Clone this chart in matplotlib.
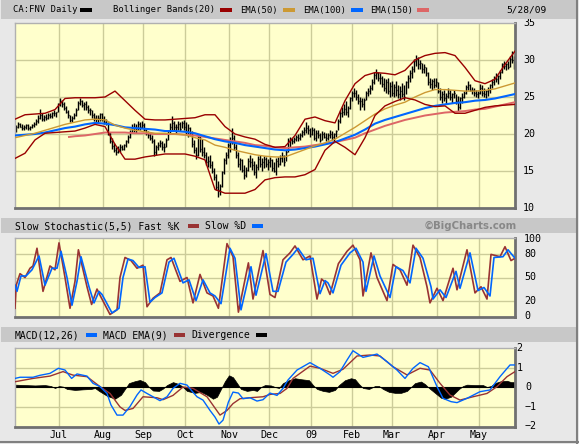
import numpy as np
import matplotlib
matplotlib.use('Agg')
import matplotlib.pyplot as plt
from matplotlib.patches import Rectangle
import matplotlib.transforms as mtransforms

# ---------------- DATA ----------------
high = [21.2,21.6,21.5,21.3,21.2,21.4,21.3,21.1,21.4,21.6,
        22.0,22.6,23.4,22.8,22.5,22.7,22.9,22.8,23.0,23.2,
        23.0,24.2,24.9,24.6,24.3,23.8,23.2,22.6,22.4,22.8,
        23.5,24.4,24.9,24.6,24.3,24.4,23.9,23.5,23.2,22.8,
        22.6,22.5,22.9,22.8,22.4,22.0,21.6,20.3,19.5,18.8,
        18.2,18.4,18.6,18.5,18.7,19.2,19.9,20.6,21.3,21.5,
        21.4,21.7,21.6,21.8,21.5,20.8,20.4,20.2,19.8,19.3,
        18.5,18.9,19.2,19.0,18.8,19.5,20.6,21.5,22.4,21.8,
        21.4,21.7,21.6,21.8,21.9,21.6,21.3,21.0,20.4,19.2,
        18.2,20.0,19.8,19.3,18.2,17.6,17.0,17.2,16.4,15.4,
        14.6,13.6,13.3,15.0,16.8,17.6,18.8,19.6,20.8,19.8,
        18.6,17.6,16.8,16.6,15.8,15.6,16.8,17.2,16.8,16.4,
        16.0,17.0,17.2,16.8,17.0,16.9,16.6,16.9,16.6,16.2,
        16.8,16.9,17.2,17.5,17.2,17.9,19.4,19.6,19.4,19.6,
        19.9,20.0,20.1,20.6,21.0,21.6,21.2,20.8,21.0,20.8,
        20.5,20.6,20.2,20.4,20.3,20.1,20.2,20.5,20.4,20.2,
        20.6,22.0,23.2,23.6,24.0,24.4,23.8,25.0,25.8,26.2,
        26.0,25.4,25.0,24.8,24.9,25.8,26.2,26.6,27.4,28.4,
        28.8,28.4,28.2,27.8,27.6,27.4,27.5,27.0,27.2,26.8,
        27.1,26.6,26.5,26.9,26.6,27.2,28.0,28.6,29.2,30.2,
        30.7,30.4,30.0,29.6,29.4,29.0,28.4,27.6,27.4,27.6,
        27.5,27.0,26.2,25.8,26.0,25.6,26.2,26.0,25.6,26.0,
        25.4,25.2,25.0,25.5,25.8,26.6,27.1,26.8,26.4,26.2,
        26.0,25.8,26.7,26.6,26.2,26.0,26.4,26.8,27.4,27.8,
        28.2,28.0,28.6,29.6,29.8,29.6,29.8,30.6,31.2,30.6]
low = [20.3,20.8,20.9,20.6,20.5,20.7,20.6,20.5,20.8,20.9,
       21.2,21.5,22.0,21.8,21.7,21.9,22.0,22.1,22.2,22.4,
       22.3,23.0,23.8,23.7,23.3,22.8,22.2,21.6,21.6,22.0,
       22.4,23.2,23.9,23.6,23.2,23.3,22.8,22.6,22.2,21.8,
       21.6,21.5,21.8,21.8,21.4,21.2,19.8,18.8,18.0,17.6,
       17.2,17.4,17.6,17.8,17.8,18.3,18.8,19.4,20.1,20.3,
       20.2,20.5,20.6,20.8,20.4,19.9,19.4,19.2,18.8,17.0,
       17.2,17.8,18.2,17.8,17.5,18.2,19.2,20.2,20.6,20.5,
       20.2,20.6,20.4,20.8,20.6,20.0,19.6,19.8,18.2,17.4,
       16.6,17.0,17.6,17.0,16.8,15.8,15.6,15.4,14.7,13.8,
       12.4,11.5,11.8,12.8,14.6,16.0,16.8,17.6,18.6,17.8,
       16.8,15.6,15.2,14.8,13.9,14.2,15.0,15.6,15.2,14.4,
       14.0,15.2,15.6,15.0,15.4,15.5,15.2,15.6,15.0,14.8,
       14.5,15.6,15.8,16.2,15.7,16.4,17.6,18.2,18.6,18.8,
       19.0,19.0,19.2,19.6,19.9,20.2,20.0,19.6,19.9,19.2,
       19.0,19.4,18.9,19.2,19.4,19.0,19.2,19.4,19.2,19.1,
       19.6,20.5,21.5,22.3,22.6,22.5,22.3,23.4,24.4,25.0,
       24.6,24.0,23.2,23.6,23.2,24.6,25.2,25.4,26.0,26.8,
       27.4,27.2,26.8,26.4,25.8,25.6,25.4,25.0,25.2,25.0,
       25.2,24.8,24.6,25.0,24.6,25.4,26.2,27.0,27.6,28.4,
       29.2,28.8,28.8,28.2,28.2,27.8,26.6,26.2,26.0,26.2,
       26.3,25.6,24.6,24.2,24.4,24.0,24.8,24.6,24.2,24.8,
       24.0,23.1,23.4,24.2,24.8,25.4,26.0,25.8,25.4,25.2,
       25.0,24.9,25.4,25.2,25.0,24.9,25.2,25.6,26.2,26.6,
       27.0,26.7,27.4,28.2,28.8,28.7,28.8,29.0,29.6,28.8]
close = [21.0,21.3,21.0,20.8,21.0,21.2,20.8,21.0,21.2,21.4,
         21.8,22.2,22.5,22.0,22.3,22.2,22.6,22.4,22.8,22.9,
         23.0,24.0,24.5,24.0,23.5,23.0,22.5,21.9,22.2,22.5,
         23.2,24.2,24.5,23.9,24.0,23.6,23.2,23.3,22.5,22.2,
         22.0,22.2,22.7,22.0,21.6,21.5,20.0,19.0,18.4,17.9,
         17.5,18.0,18.2,18.0,18.5,19.0,19.6,20.3,20.8,21.0,
         20.6,21.3,21.0,21.2,20.6,20.1,19.8,19.5,19.0,17.5,
         18.2,18.5,18.8,18.2,18.3,19.2,20.4,21.0,21.5,20.9,
         21.0,21.4,20.7,21.5,21.0,20.4,20.8,20.2,18.6,17.8,
         17.2,19.6,18.0,17.5,17.2,16.2,16.4,15.8,15.0,14.2,
         12.8,12.5,13.0,14.8,16.5,17.2,18.5,19.0,19.5,18.2,
         17.2,16.0,16.5,15.2,14.5,15.2,16.4,16.2,15.8,14.8,
         15.6,16.6,16.0,16.2,16.6,15.9,16.2,16.5,15.4,15.0,
         16.4,16.0,16.8,17.0,16.2,17.6,19.0,19.2,19.0,19.3,
         19.6,19.4,19.8,20.3,20.6,20.8,20.5,20.0,20.6,19.5,
         20.2,19.8,19.2,20.0,19.6,19.5,19.9,20.0,19.6,20.0,
         20.4,21.8,22.9,23.0,23.4,23.0,23.5,24.8,25.5,25.6,
         25.0,24.5,24.4,24.0,24.6,25.5,25.8,26.2,27.0,28.0,
         28.2,27.5,27.6,26.8,26.2,27.0,25.8,26.5,25.6,26.4,
         26.0,25.4,25.8,25.4,25.0,27.0,27.6,28.2,28.8,29.8,
         30.2,29.4,29.6,28.8,29.0,28.2,27.0,26.8,27.2,26.6,
         27.0,25.8,25.0,25.4,24.8,25.2,25.6,25.0,25.4,25.6,
         24.4,23.6,24.8,25.0,25.6,26.4,26.6,26.0,26.0,25.6,
         25.4,25.6,26.2,25.6,25.4,25.8,26.0,26.6,27.0,27.6,
         27.4,27.8,28.4,29.4,29.2,29.5,29.0,30.2,30.0,29.8]

line_days = list(range(0, 251, 5))
bb_upper = [22.0,22.6,22.7,22.8,23.3,24.8,24.9,24.9,24.9,25.0,25.8,24.5,23.2,22.0,21.9,21.9,22.0,
            22.1,22.2,22.6,22.6,21.0,20.0,19.6,19.3,18.6,18.2,18.3,19.8,22.0,22.3,21.8,21.5,24.5,
            26.8,27.9,28.3,28.2,28.0,28.6,30.0,30.6,30.9,31.0,30.6,29.0,27.2,26.8,27.4,29.4,31.2]
bb_lower = [16.7,17.4,19.2,20.1,20.2,20.3,20.4,20.8,21.3,21.0,18.6,16.6,16.6,16.9,17.1,17.3,17.3,
            17.3,17.0,16.5,12.5,12.0,12.0,12.0,12.5,13.8,14.1,14.2,14.2,14.5,15.2,17.8,19.0,18.2,
            17.2,19.5,22.5,23.8,24.4,24.9,24.6,24.0,23.7,23.8,22.8,22.8,23.2,23.6,23.8,23.9,24.0]
ema50 = [19.5,19.8,20.1,20.5,20.9,21.3,21.6,21.9,22.0,21.9,21.2,20.8,20.5,20.3,20.1,20.1,20.0,
         19.9,19.5,19.2,18.5,18.2,17.8,17.5,17.2,17.0,16.9,16.9,17.4,17.9,18.4,18.8,19.3,20.1,
         20.9,21.8,22.7,23.4,23.9,24.3,25.0,25.6,26.0,26.0,25.9,25.8,25.8,25.9,26.1,26.5,26.9]
ema100 = [19.8,19.9,20.0,20.2,20.5,20.8,21.0,21.3,21.5,21.4,21.2,20.9,20.8,20.7,20.6,20.4,20.4,
          20.3,20.1,19.7,19.3,19.0,18.8,18.5,18.3,18.1,17.9,17.8,17.9,18.1,18.3,18.6,18.9,19.4,
          19.9,20.6,21.4,21.9,22.3,22.7,23.1,23.5,23.8,24.0,24.2,24.3,24.5,24.6,24.8,25.1,25.4]
ema150_days = [27] + list(range(30, 251, 5))
ema150 = [19.6,19.7,19.8,20.0,20.2,20.2,20.2,20.1,20.1,20.0,20.0,20.0,19.9,19.8,19.6,19.4,19.2,
          19.0,18.8,18.5,18.4,18.2,18.1,18.2,18.3,18.5,18.7,18.9,19.2,19.5,20.1,20.6,21.1,21.5,
          21.9,22.2,22.5,22.7,22.9,23.0,23.1,23.3,23.4,23.7,24.0,24.3]

stoch_k_days = [0,0.6,2.5,5,7.5,9,11,14,17.5,20,22,25,27.5,30,31.7,36,38.3,41,42.5,47.5,51,52.5,55,58,
                61,64,66,69,72.5,76,78,82.5,86,89,92.5,96,99,101.7,106,109,111.7,116.7,119,124,127.5,
                130,134,137.5,140,144,147.5,151,153.3,155,157.5,161.7,166,169,172.5,174,178,181,186,
                189,192.5,196,199,202.5,206,207.5,211,214,219,221,226,230,233,236,238,242.5,245,248,250]
stoch_k = [10,40,55,50,62,65,88,32,65,60,95,50,10,45,86,38,15,35,27,2,8,50,76,72,
           62,66,12,23,30,73,76,45,50,17,54,30,26,10,94,77,5,69,22,85,28,
           24,73,82,91,73,78,22,48,44,28,68,84,92,73,26,82,50,20,
           67,60,40,92,76,38,17,36,20,62,34,86,30,38,22,80,77,90,72,75]
stoch_d_days = [0,1,3,5.5,8.5,12,15,18.5,21,23,26,28.5,31,33,37,39.5,42,43.5,48.5,52,54,56.5,59,
                62,65,67.5,70,73.5,77,79.5,84,87,90.5,94,97.5,100,103,107.5,110,113,118,120.5,125.5,
                129,131.5,135.5,139,141.5,145.5,149,152.5,155,156.5,159,163,167.5,170.5,174,175.5,
                179.5,182.5,187.5,190.5,194,197.5,200.5,204,208,209,212.5,215.5,220.5,222.5,227.5,
                231.5,234.5,237.5,239.5,244,246.5,250]
stoch_d = [40,32,52,52,60,78,40,62,62,84,50,14,45,77,38,17,32,28,4,10,50,74,72,
           63,64,18,24,30,70,75,43,47,20,47,30,26,16,88,75,8,64,27,81,
           32,32,70,80,88,73,75,29,46,43,30,66,82,88,70,32,
           78,52,24,64,59,43,88,75,38,22,34,24,58,36,82,
           33,37,26,76,77,86,75]

macd_days = [0,2.5,9,12.5,17.5,21.7,25,28.3,31,36,39,42.5,46,48,51,54,57.5,61,63,66,69,72.5,76,79,
             82.5,86,88,91,94,97.5,100,102,104,106.7,109,111.7,114,117.5,121,124,127.5,131,134,136.5,
             141,147.5,152.5,157.5,159,162.5,166,169,174,177.5,181,186,191,195,199,202.5,206.7,211,
             214,218,221,226,232.5,237.5,242.5,247.5,250]
macd = [0.44,0.5,0.5,0.6,0.7,0.96,0.87,0.44,0.67,0.56,0.19,0.02,-0.33,-0.92,-1.44,-1.44,-1.0,-0.41,
        -0.15,-0.33,-0.5,-0.7,-0.5,-0.07,0.19,0.1,-0.15,-0.5,-0.67,-1.2,-1.54,-1.9,-1.7,-0.77,-0.26,
        -0.31,-0.6,-0.55,-0.72,-0.65,-0.31,-0.43,-0.07,0.36,0.87,1.25,0.96,0.62,0.5,0.79,1.38,1.86,
        1.52,1.6,1.69,1.3,0.87,0.44,0.96,1.25,1.04,0.02,-0.58,-0.75,-0.8,-0.58,-0.24,-0.15,0.53,1.13,1.13]
signal_days = [0,9,17.5,24,29,36,42.5,47.5,52.5,55,59,64,71,74,79,84,89,96,102.5,106,109,112.5,117.5,
               124,127.5,132.5,136,139,147.5,152.5,159,164,171,177.5,182.5,189,196,202.5,207.5,212.5,
               217.5,222.5,229,236,241,246,250]
signal = [0.27,0.44,0.56,0.79,0.61,0.53,0.02,-0.33,-1.02,-1.2,-1.1,-0.5,-0.55,-0.65,-0.43,0.0,-0.07,
          -0.5,-1.44,-1.2,-0.85,-0.6,-0.55,-0.5,-0.38,-0.33,-0.07,0.44,1.07,0.96,0.7,0.91,1.59,1.64,
          1.59,1.04,0.62,0.96,0.87,0.19,-0.41,-0.67,-0.5,-0.33,0.02,0.53,0.79]
div_days = [0,5,10,15,18,20,22,24,26,30,34,38,40,42,46,50,53,55,57,60,62.5,65,67,69,72,74,76,79,82,
            84,86,90,93,96,99,101,103,105,107,109,111,113,116,119,121,123,125,128,130,132,134,137,140,
            143,147,149,151,154,157,160,162,165,168,170,172,174,177,180,182,184,187,190,193,196,198,
            200,203,205,207,210,213,215,218,220,222,224,226,230,234,236,238,240,243,246,248,250]
divergence = [0.12,0.1,0.08,0.1,0.05,-0.05,0.05,0.02,-0.1,-0.15,-0.12,-0.1,-0.05,-0.2,-0.45,-0.6,-0.4,
              -0.1,0.2,0.3,0.36,0.25,0.0,-0.18,-0.2,-0.08,0.1,0.25,0.15,0.0,-0.2,-0.3,-0.25,-0.4,-0.6,
              -0.5,-0.1,0.3,0.6,0.5,0.2,-0.1,-0.2,-0.15,-0.2,0.0,0.1,0.08,0.0,-0.05,0.2,0.35,0.45,0.4,
              0.35,0.1,-0.1,-0.2,-0.25,-0.15,0.1,0.35,0.45,0.4,0.15,-0.05,-0.1,0.05,0.05,-0.1,-0.25,
              -0.3,-0.3,-0.2,0.0,0.2,0.28,0.15,-0.05,-0.3,-0.55,-0.6,-0.5,-0.3,-0.1,0.05,0.12,0.1,0.1,
              0.0,0.05,0.2,0.3,0.32,0.25,0.25]

month_labels = ['Jul','Aug','Sep','Oct','Nov','Dec','09','Feb','Mar','Apr','May']
month_pos = [22,44,64,85,107,127,148,168.5,188.5,211,232]
price_ticks = [35,30,25,20,15,10]
stoch_ticks = [100,80,50,20,0]
macd_ticks = [2,1,0,-1,-2]

# ---------------- STYLE ----------------
W, H = 579, 444
fig = plt.figure(figsize=(W/100, H/100), dpi=100)
fig.patch.set_facecolor('#e8e8e8')
MONO = 'DejaVu Sans Mono'
BG = '#ffffcc'
GRID = '#cccc99'
C_BB = '#990000'
C_E50 = '#cc9933'
C_E100 = '#0066ff'
C_E150 = '#dd6666'
C_K = '#993333'
C_D = '#0066ff'

def fx(px): return px / W
def fy(py): return 1 - py / H

for (y0, y1) in [(0, 19), (218, 233), (327, 342)]:
    fig.patches.append(Rectangle((fx(1), fy(y1)), fx(575), (y1 - y0) / H,
                                 transform=fig.transFigure, facecolor='#c8c8c8',
                                 edgecolor='none', zorder=0))
fig.lines.append(plt.Line2D([fx(577), fx(577)], [0, 1], transform=fig.transFigure,
                            color='#808080', lw=1.5))
fig.lines.append(plt.Line2D([0, 1], [fy(442), fy(442)], transform=fig.transFigure,
                            color='#808080', lw=1.5))

def make_ax(top, bottom):
    ax = fig.add_axes([fx(15), fy(bottom), fx(500), (bottom - top) / H])
    ax.set_facecolor(BG)
    ax.set_xlim(0, 250)
    ax.set_xticks([]); ax.set_yticks([])
    for s in ['top', 'left']:
        ax.spines[s].set_color('#b0b0b0'); ax.spines[s].set_linewidth(1.0)
    for s in ['bottom', 'right']:
        ax.spines[s].set_color('#707070'); ax.spines[s].set_linewidth(2.0)
    for m in month_pos:
        ax.axvline(m, color=GRID, lw=1.0, zorder=1)
    return ax

ax1 = make_ax(23, 208)
ax2 = make_ax(238, 317)
ax3 = make_ax(348, 427)

# ---- price panel ----
ax1.set_ylim(10, 35)
for v in [15, 20, 25, 30]:
    ax1.axhline(v, color=GRID, lw=1.0, zorder=1)
xs = np.arange(len(high)) + 0.4
ax1.vlines(xs, low, high, color='black', lw=1.0, zorder=2)
ax1.hlines(close, xs, xs + 0.6, color='black', lw=1.0, zorder=2)
ax1.plot(ema150_days, ema150, color=C_E150, lw=1.4, zorder=3)
ax1.plot(line_days, ema100, color=C_E100, lw=1.5, zorder=4)
ax1.plot(line_days, ema50, color=C_E50, lw=1.0, zorder=4)
ax1.plot(line_days, bb_upper, color=C_BB, lw=1.0, zorder=5)
ax1.plot(line_days, bb_lower, color=C_BB, lw=1.0, zorder=5)

# ---- stochastic ----
ax2.set_ylim(-1.3, 101.3)
for v in [20, 50, 80]:
    ax2.axhline(v, color=GRID, lw=1.0, zorder=1)
ax2.plot(stoch_k_days, stoch_k, color=C_K, lw=1.2, zorder=3)
ax2.plot(stoch_d_days, stoch_d, color=C_D, lw=1.2, zorder=4)

# ---- MACD ----
ax3.set_ylim(-2.05, 2.0)
for v in [-1, 1]:
    ax3.axhline(v, color=GRID, lw=1.0, zorder=1)
ax3.fill_between(div_days, 0, divergence, color='black', lw=0.5, zorder=2)
ax3.axhline(0, color='black', lw=0.8, zorder=2)
ax3.plot(signal_days, signal, color=C_K, lw=1.0, zorder=3)
ax3.plot(macd_days, macd, color=C_D, lw=1.0, zorder=4)

# ---- right axis labels ----
for ax, ticks, xoff in [(ax1, price_ticks, 1.016), (ax2, stoch_ticks, 1.018)]:
    tr = mtransforms.blended_transform_factory(ax.transAxes, ax.transData)
    for t in ticks:
        ax.text(xoff, t, str(t), transform=tr, ha='left', va='center',
                fontsize=7.2, family=MONO, clip_on=False)
tr3 = mtransforms.blended_transform_factory(ax3.transAxes, ax3.transData)
for t in macd_ticks:
    xoff = 1.003 if t > 0 else 1.02
    ax3.text(xoff, t, str(t).replace('-', '\u2212'), transform=tr3, ha='left', va='center',
             fontsize=7.2, family=MONO, clip_on=False)

# ---- month labels ----
trm = mtransforms.blended_transform_factory(ax3.transData, fig.transFigure)
for lab, m in zip(month_labels, month_pos):
    ax3.text(m, fy(435), lab, transform=trm, ha='center', va='center',
             fontsize=7.2, family=MONO, clip_on=False)

# ---- headers ----
def label(px, py, s, size=7.0, **kw):
    fig.text(fx(px), fy(py), s, ha='left', va='center', fontsize=size,
             family=kw.pop('family', MONO), **kw)

def swatch(x0, x1, yc, color):
    fig.patches.append(Rectangle((fx(x0), fy(yc + 2)), fx(x1 - x0), 4 / H,
                                 transform=fig.transFigure, facecolor=color,
                                 edgecolor='none', zorder=3))

label(13, 10, 'CA:FNV Daily', 6.4)
swatch(80, 92, 10, 'black')
label(113, 10, 'Bollinger Bands(20)', 6.4)
swatch(220, 232, 10, C_BB)
label(240, 10, 'EMA(50)', 6.4)
swatch(283, 295, 10, C_E50)
label(303, 10, 'EMA(100)', 6.4)
swatch(351, 363, 10, C_E100)
label(370, 10, 'EMA(150)', 6.4)
swatch(417, 429, 10, C_E150)
label(506, 10, '5/28/09', 6.8)

label(15, 226, 'Slow Stochastic(5,5) Fast %K', 7.0)
swatch(188, 199, 226, C_K)
label(205, 226, 'Slow %D', 7.0)
swatch(252, 263, 226, C_D)
label(424, 226, '\u00a9BigCharts.com', 7.3, family='DejaVu Sans', fontweight='bold', color='#888888')

label(15, 335, 'MACD(12,26)', 7.0)
swatch(86, 97, 335, C_D)
label(103, 335, 'MACD EMA(9)', 7.0)
swatch(174, 185, 335, C_K)
label(191, 335, 'Divergence', 7.0)
swatch(256, 267, 335, 'black')

fig.savefig('out.png', dpi=100, facecolor=fig.get_facecolor())
